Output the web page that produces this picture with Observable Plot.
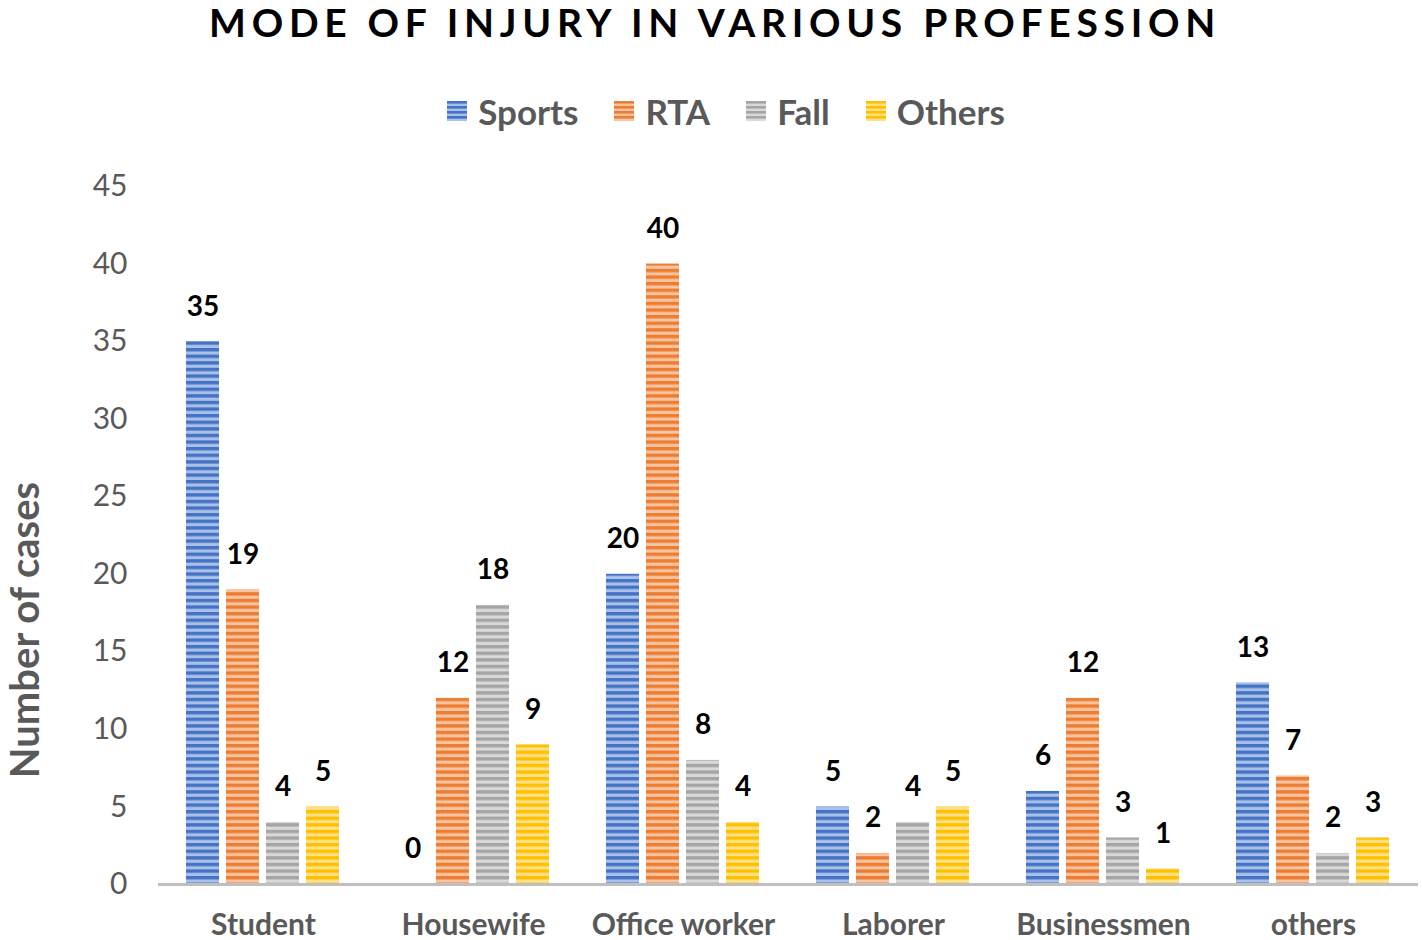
<!DOCTYPE html>
<html><head><meta charset="utf-8">
<script src="https://cdn.jsdelivr.net/npm/d3@7"></script>
<script src="https://cdn.jsdelivr.net/npm/@observablehq/plot@0.6"></script>
<style>
body{margin:0;background:#fff;font-family:Lato,sans-serif;width:1422px;height:940px;position:relative;overflow:hidden}
#title{position:absolute;top:0;left:0;width:1422px;height:46px;line-height:44px;text-align:center;font-weight:bold;font-size:39px;letter-spacing:5.7px;color:#000;padding-left:8px;box-sizing:border-box;z-index:2}
#legend{position:absolute;top:88px;left:0;width:1422px;height:46px;display:flex;justify-content:center;align-items:center;padding-left:30px;box-sizing:border-box;font-size:35px;font-weight:bold;color:#595959;z-index:2}
#legend .item{display:flex;align-items:center;margin:0 18px}
#legend svg{margin-right:11px}
#ylabel{position:absolute;left:24px;top:630px;transform:translate(-50%,-50%) rotate(-90deg);white-space:nowrap;font-size:40px;line-height:38px;font-weight:bold;color:#595959;z-index:3}
#chart{position:absolute;top:150px;left:0;z-index:1}
</style>
</head><body>
<div id="chart"></div>
<div id="title">MODE OF INJURY IN VARIOUS PROFESSION</div>
<div id="legend"></div>
<div id="ylabel">Number of cases</div>
<script>
const professions = ["Student", "Housewife", "Office worker", "Laborer", "Businessmen", "others"];
const series = ["Sports", "RTA", "Fall", "Others"];
const sports = [35, 0, 20, 5, 6, 13];
const rta = [19, 12, 40, 2, 12, 7];
const fall = [4, 18, 8, 4, 3, 2];
const others = [5, 9, 4, 5, 1, 3];
const yTicks = [0, 5, 10, 15, 20, 25, 30, 35, 40, 45];
const colors = ["#4472c4", "#ed7d31", "#a5a5a5", "#ffc000"];
const lights = ["#a9c0e8", "#f7c3a0", "#d9d9d9", "#ffe189"];

const valueArrays = [sports, rta, fall, others];
const data = [];
professions.forEach((p, i) => series.forEach((s, j) => data.push({prof: p, series: s, value: valueArrays[j][i]})));

const patIds = series.map((s, i) => `url(#pat${i})`);

function addDefs(svgNode) {
  const defs = d3.select(svgNode).insert("defs", ":first-child");
  colors.forEach((c, i) => {
    const p = defs.append("pattern").attr("id", `pat${i}`).attr("patternUnits", "userSpaceOnUse")
      .attr("width", 8).attr("height", 6.6);
    p.append("rect").attr("width", 8).attr("height", 6.6).attr("fill", lights[i]);
    p.append("rect").attr("width", 8).attr("height", 3.4).attr("fill", c);
  });
}

const chart = Plot.plot({
  width: 1422,
  height: 790,
  marginTop: 36,
  marginBottom: 56,
  marginLeft: 158,
  marginRight: 4,
  fx: {domain: professions, padding: 0},
  x: {domain: series, paddingInner: 0.165, paddingOuter: 0.66, axis: null},
  y: {domain: [0, 45]},
  color: {domain: series, range: patIds},
  style: {fontFamily: "Lato, sans-serif", background: "transparent", overflow: "visible"},
  marks: [
    Plot.axisY({ticks: yTicks, tickSize: 0, tickPadding: 31, fontSize: 30, color: "#595959", label: null}),
    Plot.axisFx({anchor: "bottom", tickSize: 0, tickPadding: 29, fontSize: 30, fontWeight: "bold", color: "#595959", label: null}),
    Plot.barY(data, {fx: "prof", x: "series", y: "value", fill: "series"}),
    Plot.ruleY([0], {stroke: "#bfbfbf", strokeWidth: 3}),
    Plot.text(data, {fx: "prof", x: "series", y: "value", text: d => String(d.value), dy: -35, fontSize: 28, fontWeight: "bold", fill: "black"})
  ]
});
addDefs(chart);
document.getElementById("chart").appendChild(chart);

const legend = d3.select("#legend");
series.forEach((s, i) => {
  const it = legend.append("div").attr("class", "item");
  const sw = it.append("svg").attr("width", 20).attr("height", 20);
  const defs = sw.append("defs");
  const p = defs.append("pattern").attr("id", `lpat${i}`).attr("patternUnits", "userSpaceOnUse").attr("width", 20).attr("height", 5);
  p.append("rect").attr("width", 20).attr("height", 5).attr("fill", lights[i]);
  p.append("rect").attr("width", 20).attr("height", 2.6).attr("fill", colors[i]);
  sw.append("rect").attr("width", 20).attr("height", 20).attr("fill", `url(#lpat${i})`);
  it.append("span").text(s);
});
</script>
</body></html>
